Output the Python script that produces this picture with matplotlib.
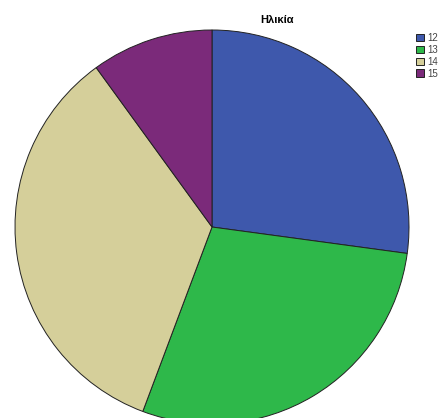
import matplotlib
matplotlib.use("Agg")
import matplotlib.pyplot as plt

# Age distribution
ages = ["12", "13", "14", "15"]
counts = [19, 20, 24, 7]
colors = ["#3E58AC", "#2EB84A", "#D5CF9A", "#7B2A7A"]
title = "Ηλικία"

W, H = 438, 418
fig = plt.figure(figsize=(W / 100, H / 100), dpi=100)
ax = fig.add_axes([0, 0, 1, 1])

# pie centre and radius in pixels
cx, cy, r = 212, 227, 197
wedges, _ = ax.pie(
    counts,
    colors=colors,
    startangle=90,
    counterclock=False,
    radius=1,
    wedgeprops=dict(edgecolor="#222222", linewidth=0.7),
)
ax.set_aspect("auto")
ax.set_xlim(-cx / r, (W - cx) / r)
ax.set_ylim((cy - H) / r, cy / r)
ax.axis("off")

fig.text(277 / W, 1 - 20 / H, title, ha="center", va="center",
         fontsize=8, fontweight="bold", family="Liberation Sans")

fig.legend(
    wedges, ages,
    loc="upper left",
    bbox_to_anchor=(411 / W, 1 - 28 / H),
    frameon=False,
    handlelength=0.85,
    handleheight=0.85,
    handletextpad=0.3,
    labelspacing=0.2,
    borderpad=0,
    prop=dict(family="Liberation Sans", size=7),
    labelcolor="#444444",
)

fig.savefig("out.png", dpi=100, facecolor="white")
